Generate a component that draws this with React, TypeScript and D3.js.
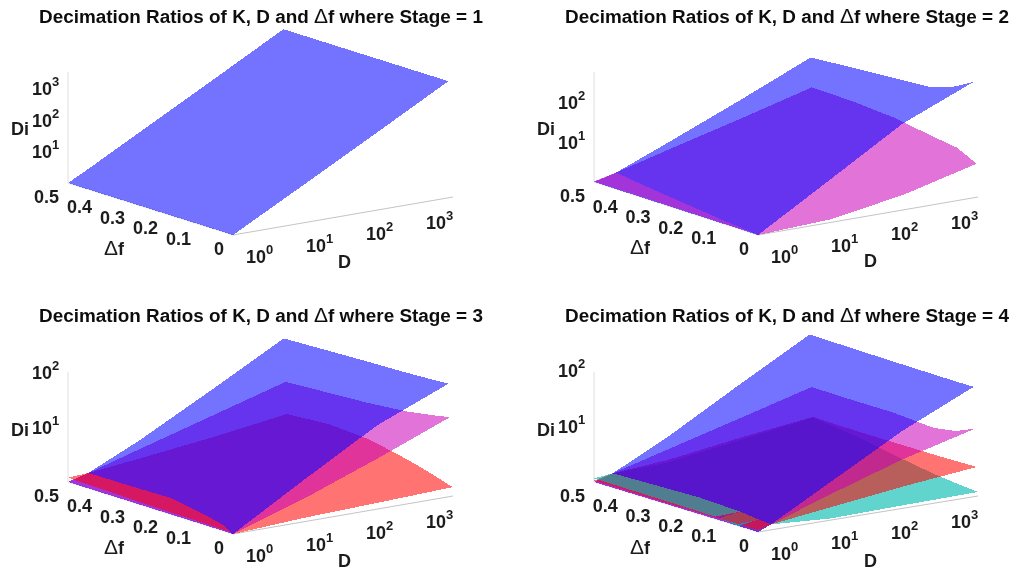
import * as d3 from 'd3';

// rows of every grid are the delta-f values, columns the D values
// column 0 is D = 1, column 1 the knee, then dCols
const deltaF = [0, 0.06, 0.13, 0.25, 0.375, 0.5];
const dCols = [10, 100, 1000];
const dfTicks = [0, 0.1, 0.2, 0.3, 0.4, 0.5];
const dTicks = [1, 10, 100, 1000];

// D where the surfaces leave the floor, one per delta-f row
const knee12 = [1, 1.1, 1.2, 1.4, 1.65, 2];
const knee3 = [1, 1.4, 1.7, 1.9, 1.9, 1.9];
const knee4 = [1.5, 1.9, 2.2, 2.1, 2, 1.8];

const BLUE = 'rgb(0,0,255)';
const PINK = 'rgb(200,0,185)';
const RED = 'rgb(255,0,0)';
const CYAN = 'rgb(0,185,175)';

const stage1Blue = [
  [1, 1, 17, 280, 4500],
  [1, 1.12, 17, 280, 4500],
  [1, 1.25, 17, 280, 4500],
  [1, 1.5, 17, 280, 4500],
  [1, 1.85, 17, 280, 4500],
  [1, 2.3, 17, 280, 4500],
];

const stage2Blue = [
  [1, 1, 12, 140, 750],
  [1, 1.02, 10.5, 100, 400],
  [1, 1.05, 9, 70, 250],
  [1, 1.15, 7, 45, 210],
  [1, 1.25, 5.5, 33, 178],
  [1, 1.38, 4.5, 25, 145],
];
const stage2Pink = [
  [1.03, 1, 1.2, 2.4, 6.8],
  [1.03, 1.02, 1.5, 3.5, 12],
  [1.03, 1.05, 2, 5, 14.5],
  [1.03, 1.15, 2.6, 7, 21],
  [1.03, 1.25, 2.9, 8, 25],
  [1.03, 1.38, 3, 8.7, 26],
];

const stage3Blue = [
  [1, 1, 6, 33, 110],
  [1, 1.02, 5.8, 30, 105],
  [1, 1.07, 5.5, 28, 100],
  [1, 1.31, 5, 24, 95],
  [1, 1.27, 4, 20, 89],
  [1, 1.26, 3.5, 17, 83],
];
const stage3Pink = [
  [1.01, 1, 2.7, 8.3, 27],
  [1.01, 1.02, 2.65, 7.8, 23],
  [1.01, 1.07, 2.6, 7.2, 19.5],
  [1.01, 1.31, 2.6, 6.5, 16.6],
  [1.01, 1.27, 2.5, 6, 15],
  [1.01, 1.26, 2.4, 5.7, 13.5],
];
const stage3Red = [
  [1.05, 1, 1.18, 1.3, 1.45],
  [1.06, 1.02, 1.25, 1.5, 1.9],
  [1.08, 1.07, 1.4, 1.8, 2.5],
  [1.1, 1.31, 1.5, 2.2, 3.6],
  [1.15, 1.27, 1.55, 2.3, 4],
  [1.2, 1.26, 1.6, 2.3, 3.5],
];

const stage4Blue = [
  [1, 1.25, 4.8, 24, 89],
  [1, 1.14, 4.7, 24, 89],
  [1, 1.14, 4.6, 24, 90],
  [1, 1.26, 4.4, 23, 92],
  [1, 1.24, 4, 21, 95],
  [1, 1.26, 3.8, 20, 98],
];
const stage4Pink = [
  [1.01, 1.25, 2.9, 7.5, 16],
  [1.01, 1.14, 2.7, 6.6, 11.3],
  [1.01, 1.14, 2.5, 5.8, 9.7],
  [1.01, 1.26, 2.4, 5.4, 11],
  [1.01, 1.24, 2.3, 5.2, 11],
  [1.01, 1.26, 2.3, 5.1, 11.3],
];
const stage4Red = [
  [1.08, 1.25, 1.7, 2.45, 3.3],
  [1.08, 1.14, 1.6, 2.4, 3.25],
  [1.06, 1.14, 1.5, 2.3, 3.2],
  [1.05, 1.26, 1.5, 2.3, 3.2],
  [1.05, 1.24, 1.5, 2.3, 3.2],
  [1.06, 1.26, 1.5, 2.3, 3.3],
];
const stage4Cyan = [
  [1, 1.25, 1.07, 1.13, 1.18],
  [1, 1.14, 1.1, 1.2, 1.28],
  [1.1, 1.14, 1.2, 1.3, 1.42],
  [1.12, 1.26, 1.25, 1.5, 1.88],
  [1.14, 1.24, 1.3, 1.8, 2.6],
  [1.16, 1.26, 1.35, 2.1, 3.2],
];

// surfaces go lowest first, that is also the paint order
const panels = [
  {
    stage: 1, titleX: 39, titleY: 23, knee: knee12,
    o: [233, 235], b: [68, 183], r: [453, 197], decade: 31.7, axisTop: 72,
    diTicks: [10, 100, 1000], surfaces: [{ color: BLUE, z: stage1Blue }],
  },
  {
    stage: 2, titleX: 565, titleY: 23, knee: knee12,
    o: [758, 235], b: [594, 182], r: [978, 197], decade: 40, axisTop: 72,
    diTicks: [10, 100], surfaces: [{ color: PINK, z: stage2Pink }, { color: BLUE, z: stage2Blue }],
  },
  {
    stage: 3, titleX: 39, titleY: 322, knee: knee3,
    o: [233, 534], b: [68, 482], r: [453, 496], decade: 55, axisTop: 372,
    diTicks: [10, 100], surfaces: [{ color: RED, z: stage3Red }, { color: PINK, z: stage3Pink }, { color: BLUE, z: stage3Blue }],
  },
  {
    stage: 4, titleX: 565, titleY: 322, knee: knee4,
    o: [758, 532], b: [594, 482], r: [978, 496], decade: 56, axisTop: 372,
    diTicks: [10, 100], surfaces: [{ color: CYAN, z: stage4Cyan }, { color: RED, z: stage4Red }, { color: PINK, z: stage4Pink }, { color: BLUE, z: stage4Blue }],
  },
];

const FONT = '"Liberation Sans", Arial, sans-serif';
const LEAN = 0.04;

const dfScale = d3.scaleLinear().domain([0, 0.5]).range([0, 1]);
const dScale = d3.scaleLog().domain([1, 1000]).range([0, 1]);

function makeProject(p: any) {
  const diScale = d3.scaleLog().domain([1, 10]).range([0, p.decade]);
  return (df: number, dv: number, di: number) => {
    const u = dfScale(df);
    const v = dScale(dv);
    const h = diScale(di);
    return [
      p.o[0] + u * (p.b[0] - p.o[0]) + v * (p.r[0] - p.o[0]) - LEAN * h * v,
      p.o[1] + u * (p.b[1] - p.o[1]) + v * (p.r[1] - p.o[1]) - h,
    ];
  };
}

const quad = d3.line().curve(d3.curveLinearClosed);

function cell(project: any, knee: number[], z: number[][], row: number, col: number) {
  const colD = (r: number, c: number) => (c === 0 ? 1 : c === 1 ? knee[r] : dCols[c - 2]);
  const pts = [
    [row, col], [row, col + 1], [row + 1, col + 1], [row + 1, col],
  ].map(([r, c]) => project(deltaF[r], colD(r, c), z[r][c]));
  return quad(pts as any) as string;
}

function meanLog(z: number[][], row: number, col: number) {
  return d3.mean([z[row][col], z[row][col + 1], z[row + 1][col], z[row + 1][col + 1]], (d) => Math.log10(d)) as number;
}

function Panel({ p }: { p: any }) {
  const project = makeProject(p);
  const rows = d3.range(deltaF.length - 1);
  const floorB = project(0.5, 1, 1);
  const floorO = project(0, 1, 1);
  const floorR = project(0, 1000, 1);
  const surfaceAlpha = (c: string) => (c === CYAN ? 0.62 : 0.55);

  // the strip next to D = 1 changes stacking order from row to row;
  // rows with the same order share one path so no seams show between them
  const stripGroups = Array.from(
    d3.group(rows, (row) => d3.sort(p.surfaces as any[], (s: any) => meanLog(s.z, row, 0)).map((s: any) => s.color).join('|')),
  );

  return (
    <g>
      <line x1={floorB[0]} y1={floorB[1]} x2={floorB[0]} y2={p.axisTop} stroke="#dedede" />
      <line x1={floorO[0]} y1={floorO[1]} x2={floorR[0]} y2={floorR[1]} stroke="#c4c4c4" />
      <line x1={floorO[0]} y1={floorO[1]} x2={floorB[0]} y2={floorB[1]} stroke="#dedede" />

      <g filter="url(#soft)" shapeRendering="crispEdges">
        {stripGroups.map(([order, groupRows]) =>
          order.split('|').map((color) => {
            const s = p.surfaces.find((d: any) => d.color === color);
            return (
              <path
                key={`${order}-${color}`}
                d={groupRows.map((row) => cell(project, p.knee, s.z, row, 0)).join('')}
                fill={color}
                fillOpacity={surfaceAlpha(color)}
              />
            );
          }),
        )}
        {/* the rest of each surface, lowest surface first */}
        {p.surfaces.map((s: any) => (
          <path
            key={s.color}
            d={rows.map((row) => d3.range(1, 4).map((col) => cell(project, p.knee, s.z, row, col)).join('')).join('')}
            fill={s.color}
            fillOpacity={surfaceAlpha(s.color)}
          />
        ))}
      </g>

      <g fontFamily={FONT} fontWeight="bold" fontSize={18} fill="#1a1a1a" filter="url(#softText)">
        <text x={p.titleX} y={p.titleY} fontSize={18.9} fill="#111">
          Decimation Ratios of K, D and <tspan fontWeight="normal" fontSize={21}>Δ</tspan>f where Stage = {p.stage}
        </text>
        {dfTicks.map((t) => {
          const f = project(t, 1, 1);
          return (
            <text key={t} x={f[0] - 9} y={f[1] + 20} textAnchor="end">
              {t === 0 ? '0' : t}
            </text>
          );
        })}
        {dTicks.map((t) => {
          const f = project(0, t, 1);
          const v = dScale(t);
          return (
            <text key={t} x={f[0] + 13 - 40 * v} y={f[1] + 28 + 4 * v}>
              10<tspan dy={-9} fontSize={13}>{Math.log10(t)}</tspan>
            </text>
          );
        })}
        {p.diTicks.map((t: number) => {
          const f = project(0.5, 1, t);
          return (
            <text key={t} x={floorB[0] - 36} y={f[1] + 7}>
              10<tspan dy={-9} fontSize={13}>{Math.log10(t)}</tspan>
            </text>
          );
        })}
        <text x={floorB[0] - 57} y={p.stage < 3 ? 135 : 436} fontSize={18}>Di</text>
        <text x={floorB[0] + 36} y={floorB[1] + 72}>
          <tspan fontWeight="normal" fontSize={21}>Δ</tspan>f
        </text>
        <text x={floorB[0] + 270} y={floorB[1] + 85} fontSize={18}>D</text>
      </g>
    </g>
  );
}

export default function App() {
  return (
    <svg width={1016} height={571} style={{ position: 'absolute', left: 0, top: 0, background: '#fff' }}>
      <defs>
        <filter id="soft" x="-5%" y="-5%" width="110%" height="110%">
          <feGaussianBlur stdDeviation="0.55" />
        </filter>
        <filter id="softText" x="-5%" y="-5%" width="110%" height="110%">
          <feGaussianBlur stdDeviation="0.35" />
        </filter>
      </defs>
      {panels.map((p) => (
        <Panel key={p.stage} p={p} />
      ))}
    </svg>
  );
}
